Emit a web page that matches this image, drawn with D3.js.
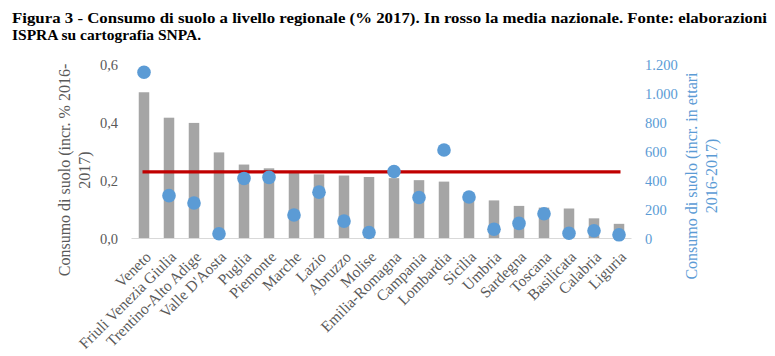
<!DOCTYPE html>
<html><head><meta charset="utf-8">
<script src="https://cdn.jsdelivr.net/npm/d3@7"></script>
<style>body{margin:0;background:#fff}svg{display:block}</style>
</head><body>
<svg id="c" width="775" height="356"></svg>
<script>
const categories = ["Veneto","Friuli Venezia Giulia","Trentino-Alto Adige","Valle D'Aosta","Puglia","Piemonte","Marche","Lazio","Abruzzo","Molise","Emilia-Romagna","Campania","Lombardia","Sicilia","Umbria","Sardegna","Toscana","Basilicata","Calabria","Liguria"];
const pctValues = [0.504,0.416,0.398,0.296,0.254,0.241,0.232,0.220,0.216,0.211,0.207,0.200,0.195,0.150,0.130,0.111,0.105,0.102,0.068,0.049];
const haValues = [1146,293,242,29,412,419,159,317,117,38,460,280,609,284,61,101,168,33,50,22];
const nationalMean = 0.229;
const leftTicks = [0,0.2,0.4,0.6];
const rightTicks = [0,200,400,600,800,1000,1200];
const titleLines = ["Figura 3 - Consumo di suolo a livello regionale (% 2017). In rosso la media nazionale. Fonte: elaborazioni","ISPRA su cartografia SNPA."];
const leftTitle = ["Consumo di suolo (incr. % 2016-","2017)"];
const rightTitle = ["Consumo di suolo (incr. in ettari","2016-2017)"];

const svg = d3.select("#c");
const serif = "'Liberation Serif','Times New Roman',serif";
const gray = "#595959", blue = "#5B9BD5";

// title
svg.append("text").attr("x",12).attr("y",22.5).attr("font-family",serif).attr("font-weight","bold")
  .attr("font-size",15.5).attr("fill","#000").attr("textLength",755).attr("lengthAdjust","spacingAndGlyphs").text(titleLines[0]);
svg.append("text").attr("x",12).attr("y",40).attr("font-family",serif).attr("font-weight","bold")
  .attr("font-size",15.5).attr("fill","#000").text(titleLines[1]);

const x = d3.scaleBand().domain(categories).range([131.5,631.5]).paddingInner(0.58).paddingOuter(0.29);
const yL = d3.scaleLinear().domain([0,0.6]).range([238,64.5]);
const yR = d3.scaleLinear().domain([0,1200]).range([238,64.5]);
const loc = d3.formatLocale({decimal:",",thousands:".",grouping:[3],currency:["","€"]});

// bars
svg.append("g").selectAll("rect").data(categories).join("rect")
  .attr("x",d=>x(d)).attr("width",x.bandwidth())
  .attr("y",(d,i)=>yL(pctValues[i])).attr("height",(d,i)=>yL(0)-yL(pctValues[i]))
  .attr("fill","#A5A5A5");

// baseline
svg.append("line").attr("x1",131.5).attr("x2",631.5).attr("y1",yL(0)+0.5).attr("y2",yL(0)+0.5)
  .attr("stroke","#D9D9D9").attr("stroke-width",1.2);

// mean line
const cx = d=>x(d)+x.bandwidth()/2;
svg.append("line").attr("x1",cx(categories[0])-1.5).attr("x2",cx(categories[categories.length-1])+1.5)
  .attr("y1",yL(nationalMean)).attr("y2",yL(nationalMean)).attr("stroke","#C00000").attr("stroke-width",3.2);

// dots
svg.append("g").selectAll("circle").data(categories).join("circle")
  .attr("cx",cx).attr("cy",(d,i)=>yR(haValues[i])).attr("r",6.8).attr("fill",blue);

// left axis
const gL = svg.append("g").attr("transform","translate(118,0)")
  .call(d3.axisLeft(yL).tickValues(leftTicks).tickSize(0).tickPadding(0).tickFormat(loc.format(".1f")));
gL.select(".domain").remove();
gL.selectAll("text").attr("font-family",serif).attr("font-size",14.5).attr("fill",gray).attr("dy","0.35em");

// right axis
const gR = svg.append("g").attr("transform","translate(645,0)")
  .call(d3.axisRight(yR).tickValues(rightTicks).tickSize(0).tickPadding(0).tickFormat(loc.format(",d")));
gR.select(".domain").remove();
gR.selectAll("text").attr("font-family",serif).attr("font-size",14.5).attr("fill",blue).attr("dy","0.35em");

// category axis
const gX = svg.append("g").attr("transform","translate(0,238)")
  .call(d3.axisBottom(x).tickSize(0).tickPadding(0));
gX.select(".domain").remove();
gX.selectAll("text").attr("font-family",serif).attr("font-size",15.5).attr("fill",gray)
  .attr("text-anchor","end").attr("y",0).attr("dy",0)
  .attr("transform","translate(8,20) rotate(-45)");

// axis titles
const lt = svg.append("text").attr("font-family",serif).attr("font-size",16).attr("fill",gray)
  .attr("text-anchor","middle").attr("transform","translate(70,170) rotate(-90)");
lt.append("tspan").attr("x",0).attr("y",0).text(leftTitle[0]);
lt.append("tspan").attr("x",0).attr("y",20).text(leftTitle[1]);

const rt = svg.append("text").attr("font-family",serif).attr("font-size",16).attr("fill",blue)
  .attr("text-anchor","middle").attr("transform","translate(697,176) rotate(-90)");
rt.append("tspan").attr("x",0).attr("y",0).text(rightTitle[0]);
rt.append("tspan").attr("x",0).attr("y",20).text(rightTitle[1]);
</script>
</body></html>
